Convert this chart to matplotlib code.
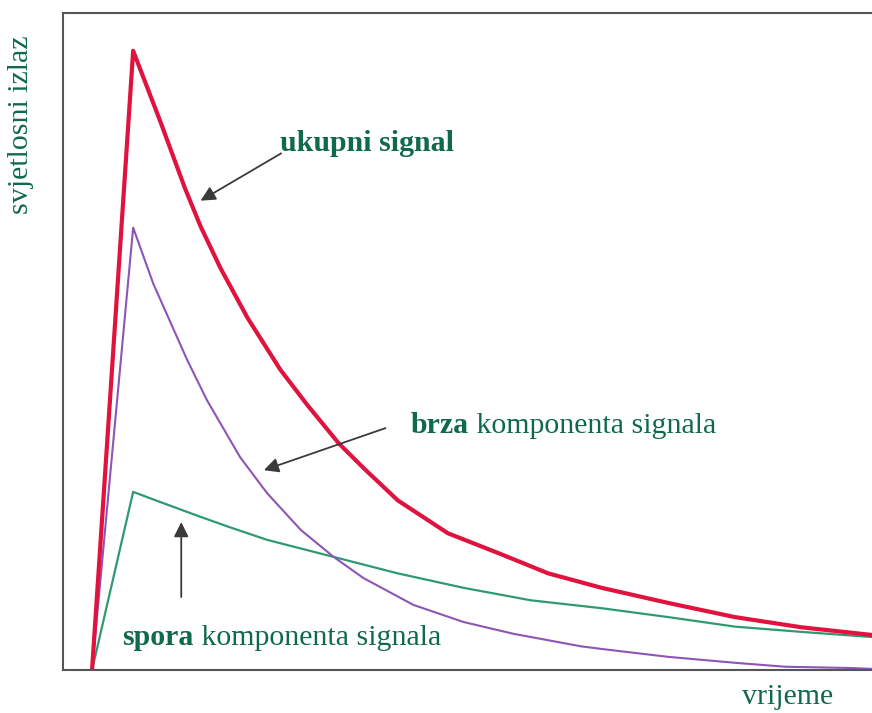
import matplotlib.pyplot as plt

plt.rcParams['font.family'] = ['Liberation Serif', 'DejaVu Serif']

# vrijeme (arbitrary units) and light output for each curve
t_total = [0, 5.0, 8.29, 11.3, 13.2, 15.6, 18.9, 22.9, 26.2, 30.0, 33.05, 37.2,
           43.3, 49.4, 55.5, 62.0, 70.1, 78.2, 86.3, 95.1]
ukupni = [0, 94.2, 83.5, 73.3, 67.5, 61.2, 53.6, 45.7, 40.3, 34.5, 30.7, 25.8,
          20.8, 17.8, 14.7, 12.5, 10.2, 8.05, 6.5, 5.3]

t_brza = [0, 5.0, 7.44, 9.5, 11.6, 14.0, 18.0, 21.3, 25.4, 29.4, 33.0, 39.1,
          45.2, 51.3, 59.5, 62.0, 70.1, 78.2, 84.3, 92.4, 95.1]
brza = [0, 67.3, 58.8, 53.0, 47.1, 41.0, 32.4, 26.9, 21.3, 17.2, 14.0, 9.9,
        7.3, 5.5, 3.6, 3.2, 2.0, 1.1, 0.5, 0.3, 0.15]

t_spora = [0, 5.0, 8.2, 13.2, 16.8, 21.3, 29.4, 37.2, 45.2, 53.4, 62.0, 70.1,
           78.2, 86.3, 95.1]
spora = [0, 27.1, 25.6, 23.3, 21.7, 19.8, 17.2, 14.7, 12.5, 10.6, 9.4, 8.05,
         6.6, 5.8, 5.0]

txt_green = '#0f6a4a'
fs = 21.5
arrow = dict(arrowstyle='-|>', color='#3a3a3a', lw=1.3, mutation_scale=22,
             shrinkA=0, shrinkB=0)

fig = plt.figure(figsize=(8.72, 7.13), dpi=100)
ax = fig.add_axes([0.0722, 0.0603, 0.93, 0.9219])

ax.plot(t_spora, spora, color='#2f9a70', linewidth=1.6)
ax.plot(t_brza, brza, color='#8d55b5', linewidth=1.5)
ax.plot(t_total, ukupni, color='#e0123e', linewidth=3.0)

ax.set_xlim(-3.54, 95.12)
ax.set_ylim(0, 100)
ax.set_xticks([])
ax.set_yticks([])
for s in ['left', 'top', 'bottom']:
    ax.spines[s].set_color('#555555')
    ax.spines[s].set_linewidth(1.5)
ax.spines['right'].set_visible(False)

# ukupni signal
ax.annotate('', xy=(13.2, 71.4), xytext=(23.0, 78.6), arrowprops=arrow)
ax.text(33.5, 80.1, 'ukupni signal', fontsize=fs, fontweight='bold',
        color=txt_green, ha='center', va='center')

# brza komponenta
ax.annotate('', xy=(20.9, 30.4), xytext=(35.7, 36.8), arrowprops=arrow)
b1 = ax.text(38.8, 36.0, 'brza', fontsize=fs, fontweight='bold',
             color=txt_green, ha='left', va='baseline')
ax.annotate(' komponenta signala', xy=(1, 0), xycoords=b1, fontsize=fs,
            color=txt_green, ha='left', va='bottom')

# spora komponenta
ax.annotate('', xy=(10.85, 22.5), xytext=(10.85, 11.1), arrowprops=arrow)
s1 = ax.text(3.7, 3.8, 'spora', fontsize=fs, fontweight='bold',
             color=txt_green, ha='left', va='baseline')
ax.annotate(' komponenta signala', xy=(1, 0), xycoords=s1, fontsize=fs,
            color=txt_green, ha='left', va='bottom')

fig.text(0.024, 0.825, 'svjetlosni izlaz', rotation=90, fontsize=fs,
         color=txt_green, ha='center', va='center')
fig.text(0.903, 0.022, 'vrijeme', fontsize=fs, color=txt_green,
         ha='center', va='center')

fig.savefig('out.png', dpi=100)
